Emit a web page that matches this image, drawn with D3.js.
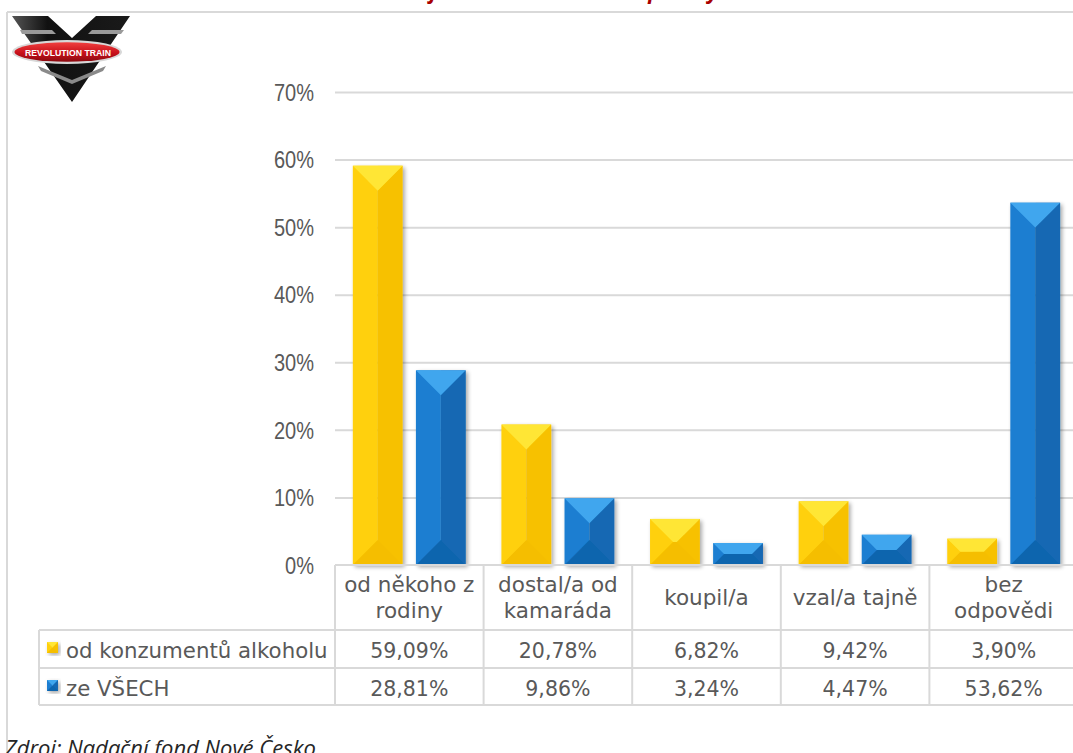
<!DOCTYPE html>
<html><head><meta charset="utf-8">
<script src="https://cdn.jsdelivr.net/npm/d3@7"></script>
<style>
html,body{margin:0;padding:0;background:#fff;overflow:hidden}
svg{display:block}
</style></head>
<body>
<svg id="chart" width="1073" height="753"></svg>
<script>
// ---- data ----
const categories = ["od někoho z rodiny","dostal/a od kamaráda","koupil/a","vzal/a tajně","bez odpovědi"];
const categoryLines = [["od někoho z","rodiny"],["dostal/a od","kamaráda"],["koupil/a"],["vzal/a tajně"],["bez","odpovědi"]];
const seriesNames = ["od konzumentů alkoholu","ze VŠECH"];
const consumersValues = [0.5909,0.2078,0.0682,0.0942,0.0390];
const allValues = [0.2881,0.0986,0.0324,0.0447,0.5362];
const yTickValues = [0,0.1,0.2,0.3,0.4,0.5,0.6,0.7];
const titleText = "Odkud jsi měl alkohol na své pokusy?";
const sourceText = "Zdroj: Nadační fond Nové Česko";
const logoText = "REVOLUTION TRAIN";

const seriesValues = [consumersValues, allValues];
const palettes = [
  {top:"#FFE636", left:"#FFD00C", right:"#F7C100", bottom:"#F5BE00"},
  {top:"#41A6EE", left:"#1B7ED1", right:"#1368B3", bottom:"#1165AE"}
];

const cz = d3.formatLocale({decimal:",", thousands:"\u00a0", grouping:[3], currency:["","\u00a0Kč"]});
const fmtVal = cz.format(".2%");
const fmtTick = cz.format(".0%");

const svg = d3.select("#chart");
const plotLeft = 335, plotRight = 1078, plotTop = 92, plotBottom = 565;
const textColor = "#595959", lineColor = "#d9d9d9";

const defs = svg.append("defs");
const f = defs.append("filter").attr("id","shadow").attr("x","-20%").attr("y","-20%").attr("width","140%").attr("height","140%");
f.append("feGaussianBlur").attr("in","SourceAlpha").attr("stdDeviation",2.2);
f.append("feOffset").attr("dx",1.5).attr("dy",1.5).attr("result","ob");
f.append("feComponentTransfer").append("feFuncA").attr("type","linear").attr("slope",0.35);
const fm = f.append("feMerge"); fm.append("feMergeNode"); fm.append("feMergeNode").attr("in","SourceGraphic");

const redGrad = defs.append("linearGradient").attr("id","redg").attr("x1",0).attr("y1",0).attr("x2",0).attr("y2",1);
redGrad.append("stop").attr("offset","0%").attr("stop-color","#f04040");
redGrad.append("stop").attr("offset","55%").attr("stop-color","#c8101a");
redGrad.append("stop").attr("offset","100%").attr("stop-color","#8a0a10");
const blackGrad = defs.append("linearGradient").attr("id","blackg").attr("x1",0).attr("y1",0).attr("x2",1).attr("y2",0);
blackGrad.append("stop").attr("offset","0%").attr("stop-color","#555");
blackGrad.append("stop").attr("offset","30%").attr("stop-color","#111");
blackGrad.append("stop").attr("offset","100%").attr("stop-color","#1a1a1a");

// ---- title (cut off at top, as in the reference: only descenders show) ----
const title = svg.append("text").attr("x",0).attr("y",-1)
  .attr("font-family","'Open Sans',sans-serif").attr("font-style","italic").attr("font-weight","bold")
  .attr("font-size",21).attr("fill","#a80000").text(titleText);
{
  const node = title.node();
  const jIdx = titleText.indexOf("j");
  const off = node.getSubStringLength(0, jIdx);
  title.attr("x", 430 - off);
}

// ---- outer frame ----
svg.append("line").attr("x1",7).attr("x2",1073).attr("y1",12).attr("y2",12).attr("stroke",lineColor).attr("stroke-width",2);
svg.append("line").attr("x1",7).attr("x2",7).attr("y1",12).attr("y2",753).attr("stroke",lineColor).attr("stroke-width",2);

// ---- logo ----
const logo = svg.append("g");
logo.append("path").attr("d","M12,16 L48,16 L72,38 L96,16 L130,16 L72,102 Z").attr("fill","url(#blackg)");
logo.append("path").attr("d","M20,30 L52,30 L56,34 L22,34 Z").attr("fill","#9a9a9a");
logo.append("path").attr("d","M92,30 L124,30 L121,34 L88,34 Z").attr("fill","#9a9a9a");
logo.append("path").attr("d","M38,66 L72,80 L106,66 L103,71 L72,84 L41,71 Z").attr("fill","#8a8a8a");
logo.append("ellipse").attr("cx",67).attr("cy",52).attr("rx",55).attr("ry",12).attr("fill","#d8d8d8");
logo.append("ellipse").attr("cx",67).attr("cy",52).attr("rx",52.5).attr("ry",9.8).attr("fill","url(#redg)");
logo.append("text").attr("x",68).attr("y",55.5).attr("text-anchor","middle")
  .attr("font-family","'Liberation Sans',Arial,sans-serif").attr("font-weight","bold").attr("font-size",9)
  .attr("textLength",86).attr("lengthAdjust","spacingAndGlyphs").attr("fill","#fff").text(logoText);

// ---- scales ----
const x0 = d3.scaleBand().domain(categories).range([plotLeft, plotRight]).paddingInner(0).paddingOuter(0);
const x1 = d3.scaleBand().domain(seriesNames).range([x0.bandwidth()*0.12, x0.bandwidth()*0.88]).paddingInner(0.21);
const y = d3.scaleLinear().domain([0,0.7]).range([plotBottom, plotTop]);

// ---- gridlines + y axis ----
const grid = svg.append("g").attr("transform",`translate(${plotLeft},0)`)
  .call(d3.axisLeft(y).tickValues(yTickValues.filter(d=>d>0)).tickSize(-(plotRight-plotLeft)).tickFormat(""));
grid.select(".domain").remove();
grid.selectAll(".tick line").attr("stroke",lineColor).attr("stroke-width",2);

const yAxis = svg.append("g").attr("transform",`translate(${plotLeft},0)`)
  .call(d3.axisLeft(y).tickValues(yTickValues).tickSize(0).tickPadding(21).tickFormat(fmtTick));
yAxis.select(".domain").remove();
yAxis.selectAll(".tick text").attr("font-family","'Liberation Sans',Arial,sans-serif")
  .attr("font-size",23).attr("fill",textColor).attr("dy","0.36em")
  .each(function(){
    const len = this.getComputedTextLength();
    d3.select(this).attr("textLength", len*0.87).attr("lengthAdjust","spacingAndGlyphs");
  });

// ---- bevel bars ----
function drawBevel(g, x, yTop, w, h, pal){
  const b = Math.min(w/2, h/2);
  const xr = x+w, yb = yTop+h;
  const P = pts => pts.map(p=>p.join(",")).join(" ");
  const gg = g.append("g").attr("filter","url(#shadow)");
  gg.append("rect").attr("x",x).attr("y",yTop).attr("width",w/2).attr("height",h).attr("fill",pal.left);
  gg.append("rect").attr("x",x+w/2).attr("y",yTop).attr("width",w/2).attr("height",h).attr("fill",pal.right);
  gg.append("polygon").attr("points",P([[x,yb],[x+b,yb-b],[xr-b,yb-b],[xr,yb]])).attr("fill",pal.bottom);
  gg.append("polygon").attr("points",P([[x,yTop],[xr,yTop],[xr-b,yTop+b],[x+b,yTop+b]])).attr("fill",pal.top);
}

const bars = svg.append("g");
categories.forEach((c,i)=>{
  seriesNames.forEach((s,j)=>{
    const v = seriesValues[j][i];
    drawBevel(bars, x0(c)+x1(s), y(v), x1.bandwidth(), y(0)-y(v), palettes[j]);
  });
});

// ---- data table ----
const rowTops = [630, 668, 705];
const tbl = svg.append("g");
const tableFont = "'DejaVu Sans',Verdana,sans-serif";
tbl.append("line").attr("x1",plotLeft).attr("x2",plotRight).attr("y1",plotBottom).attr("y2",plotBottom).attr("stroke",lineColor).attr("stroke-width",2);
rowTops.forEach(ry=>tbl.append("line").attr("x1",39).attr("x2",plotRight).attr("y1",ry).attr("y2",ry).attr("stroke",lineColor).attr("stroke-width",2));
categories.forEach(c=>tbl.append("line").attr("x1",x0(c)).attr("x2",x0(c)).attr("y1",plotBottom).attr("y2",705).attr("stroke",lineColor).attr("stroke-width",2));
tbl.append("line").attr("x1",39).attr("x2",39).attr("y1",630).attr("y2",705).attr("stroke",lineColor).attr("stroke-width",2);

categories.forEach((c,i)=>{
  const lines = categoryLines[i];
  const cx = x0(c)+x0.bandwidth()/2;
  const ys = lines.length===1 ? [605] : [592,618];
  lines.forEach((ln,k)=>{
    tbl.append("text").attr("x",cx).attr("y",ys[k]).attr("text-anchor","middle")
      .attr("font-family",tableFont).attr("font-size",21.5).attr("fill",textColor).text(ln);
  });
});
const rowBase = [658, 696];
seriesNames.forEach((s,j)=>{
  drawBevel(tbl, 47, rowBase[j]-16, 11, 11, palettes[j]);
  tbl.append("text").attr("x",66).attr("y",rowBase[j]).attr("font-family",tableFont).attr("font-size",21.3)
    .attr("fill",textColor).text(s);
  categories.forEach((c,i)=>{
    tbl.append("text").attr("x",x0(c)+x0.bandwidth()/2).attr("y",rowBase[j]).attr("text-anchor","middle")
      .attr("font-family",tableFont).attr("font-size",20.5).attr("fill",textColor).text(fmtVal(seriesValues[j][i]));
  });
});

// ---- source ----
svg.append("text").attr("x",5).attr("y",756).attr("font-family","'Open Sans',sans-serif").attr("font-style","italic")
  .attr("font-size",22).attr("fill","#262626").text(sourceText);
</script>
</body></html>
